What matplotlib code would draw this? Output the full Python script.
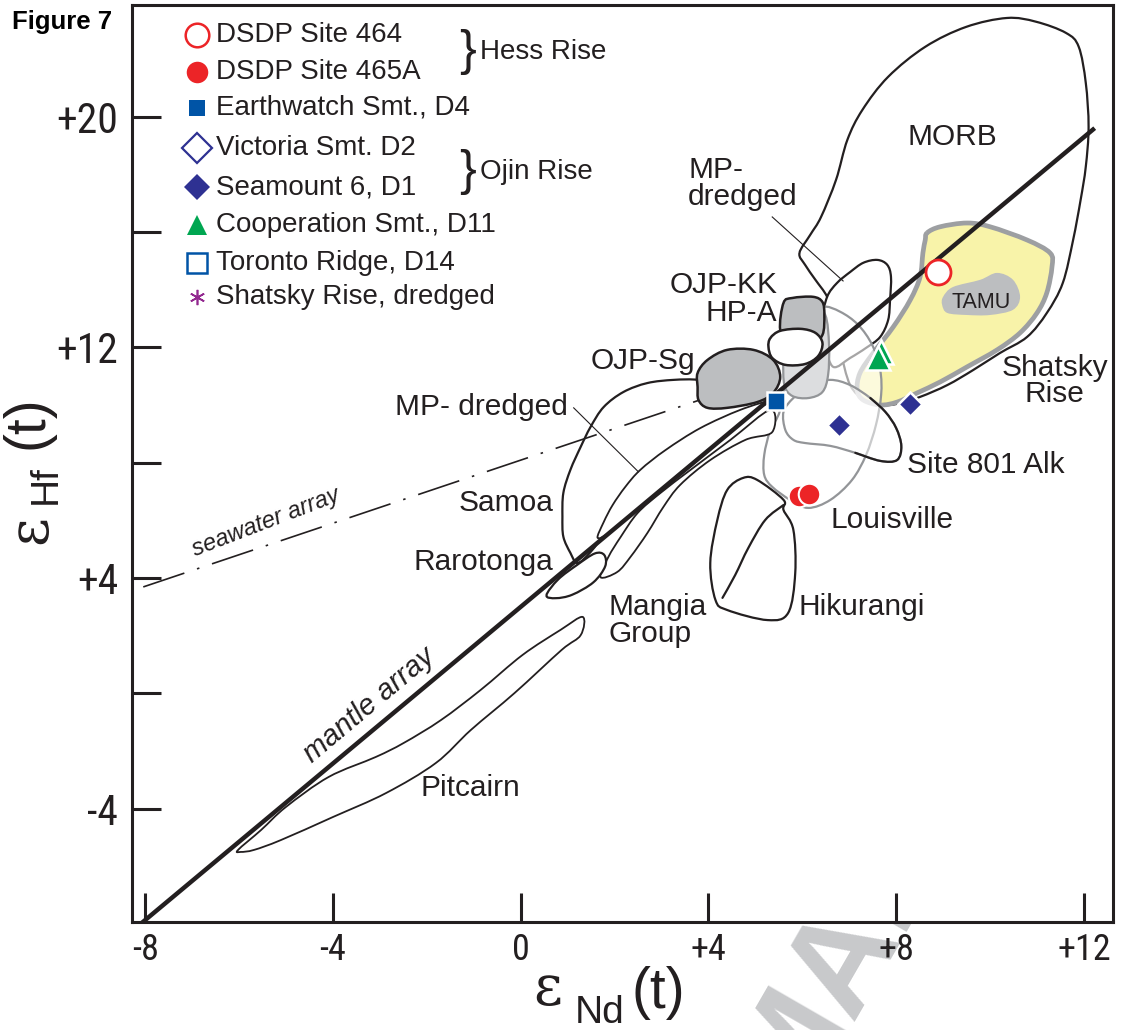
import matplotlib
matplotlib.use('Agg')
import matplotlib.pyplot as plt
from matplotlib.path import Path
from matplotlib.patches import PathPatch

plt.rcParams['font.family'] = ['Liberation Sans', 'DejaVu Sans']

INK = '#231f20'
GREY_EDGE = '#939598'
DARK_FILL = '#bcbec0'
LIGHT_FILL = '#dcdddf'
YELLOW = '#f8f3a9'
NARROW = ['Roboto Condensed', 'Liberation Sans Narrow', 'Liberation Sans', 'DejaVu Sans']

# ---- field outlines, (eNd, eHf) ----
morb = [(5.94, 15.27), (6.17, 15.90), (6.40, 16.52), (6.72, 17.81), (6.96, 19.19), (7.28, 20.23),
        (7.83, 21.38), (8.62, 22.42), (9.49, 23.11), (10.36, 23.42), (10.98, 23.29), (11.62, 22.90),
        (11.89, 22.42), (12.04, 21.17), (12.10, 19.64), (12.04, 18.26), (11.93, 17.11), (11.77, 15.72),
        (11.55, 14.23), (11.21, 13.19), (10.79, 12.36), (10.21, 11.80), (9.64, 11.21), (9.09, 10.69),
        (8.51, 10.28), (8.02, 10.04), (7.72, 10.00), (7.34, 10.17), (7.02, 10.69), (6.81, 11.91),
        (6.70, 12.95), (6.53, 13.75), (6.28, 14.34), (6.06, 14.86)]
shatsky = [(8.66, 15.97), (8.94, 16.18), (9.51, 16.31), (10.00, 16.18), (10.79, 15.72), (11.28, 15.27),
           (11.32, 14.79), (11.21, 13.89), (11.00, 13.19), (10.64, 12.50), (10.15, 11.91), (9.51, 11.32),
           (8.94, 10.80), (8.45, 10.42), (8.02, 10.10), (7.66, 10.00), (7.30, 10.17), (7.17, 10.52),
           (7.23, 11.11), (7.51, 11.80), (7.94, 12.71), (8.30, 13.64), (8.51, 14.44), (8.57, 15.27),
           (8.62, 15.72)]
tamu = [(9.00, 13.75), (9.21, 14.09), (9.79, 14.34), (10.15, 14.58), (10.49, 14.34), (10.64, 13.75),
        (10.49, 13.30), (10.00, 13.12), (9.51, 13.12), (9.09, 13.19), (8.98, 13.47)]
mp_upper = [(6.53, 13.75), (6.74, 14.23), (7.02, 14.61), (7.30, 14.93), (7.60, 15.03), (7.81, 14.86),
            (7.89, 14.44), (7.87, 13.64), (7.83, 12.95), (7.66, 12.36), (7.36, 11.98), (7.02, 11.63),
            (6.66, 11.32), (6.49, 12.08), (6.43, 12.95)]
louisville = [(5.53, 9.83), (5.32, 9.13), (5.19, 8.27), (5.19, 7.57), (5.36, 7.16), (5.74, 6.71),
              (6.13, 6.43), (6.60, 6.71), (7.06, 7.40), (7.36, 8.27), (7.57, 9.31), (7.68, 10.35),
              (7.66, 11.21), (7.49, 12.08), (7.19, 12.78), (6.81, 13.23), (6.43, 13.40), (6.06, 12.95),
              (5.74, 11.56)]
site801 = [(5.60, 9.76), (5.64, 9.13), (5.81, 8.79), (6.06, 8.68), (6.60, 8.58), (7.13, 8.34),
           (7.66, 8.06), (8.02, 8.09), (8.11, 8.58), (8.00, 9.20), (7.77, 9.76), (7.45, 10.24),
           (7.02, 10.69), (6.60, 10.87), (6.17, 10.69), (5.81, 10.24)]
site801_black = [(7.13, 8.34), (7.66, 8.06), (8.02, 8.09), (8.11, 8.58), (8.00, 9.20), (7.77, 9.76),
                 (7.45, 10.24)]
light_oval = [(6.21, 13.47), (6.49, 13.12), (6.57, 12.08), (6.55, 11.04), (6.43, 10.45), (6.13, 10.24),
              (5.79, 10.31), (5.62, 10.69), (5.60, 11.56), (5.68, 12.60), (5.89, 13.30)]
ojp_kk = [(5.60, 13.54), (5.79, 13.71), (6.23, 13.75), (6.43, 13.57), (6.47, 13.12), (6.43, 12.43),
          (6.17, 12.08), (5.74, 12.08), (5.53, 12.60)]
hp_a = [(5.32, 12.32), (5.53, 12.57), (5.96, 12.64), (6.28, 12.50), (6.43, 12.15), (6.34, 11.70),
        (6.06, 11.42), (5.64, 11.39), (5.36, 11.63), (5.28, 12.01)]
ojp_sg = [(3.77, 11.11), (3.98, 11.56), (4.40, 11.91), (4.96, 11.91), (5.38, 11.56), (5.53, 10.97),
          (5.38, 10.42), (5.04, 10.10), (4.40, 9.90), (3.98, 9.90), (3.79, 10.17), (3.77, 10.62)]
samoa = [(3.77, 10.87), (3.26, 10.87), (2.70, 10.76), (2.19, 10.45), (1.77, 9.93), (1.49, 9.24),
         (1.28, 8.55), (1.06, 7.75), (0.91, 6.95), (0.89, 6.12), (0.91, 5.43), (1.06, 4.87),
         (1.21, 4.52), (1.49, 4.90), (1.91, 5.77), (2.55, 6.88), (3.40, 8.27), (4.26, 9.31),
         (5.21, 10.10), (4.68, 10.45), (4.04, 10.69)]
mp_lower = [(1.64, 5.39), (1.77, 5.94), (1.96, 6.53), (2.23, 7.16), (2.55, 7.75), (3.09, 8.44),
            (3.83, 9.20), (4.68, 9.83), (5.36, 10.17), (5.11, 9.90), (4.26, 8.79), (3.40, 7.64),
            (2.55, 6.46), (1.91, 5.60)]
mangia = [(1.70, 4.03), (1.87, 4.73), (2.13, 5.42), (2.49, 6.25), (2.98, 6.95), (3.62, 7.75),
          (4.47, 8.79), (5.32, 9.83), (5.36, 9.06), (4.79, 8.79), (4.04, 8.09), (3.40, 7.23),
          (3.04, 6.46), (2.70, 5.56), (2.34, 4.73), (2.06, 4.21)]
rarotonga = [(0.55, 3.40), (0.80, 3.95), (1.20, 4.45), (1.58, 4.85), (1.78, 4.80), (1.80, 4.40),
             (1.55, 3.85), (1.10, 3.42), (0.75, 3.30)]
pitcairn = [(-6.02, -5.43), (-5.53, -4.74), (-5.00, -3.94), (-4.09, -2.90), (-3.09, -2.21),
            (-2.49, -1.72), (-1.70, -0.93), (-0.85, 0.12), (0.04, 1.33), (0.85, 2.20), (1.32, 2.65),
            (1.28, 2.02), (0.87, 1.50), (-0.13, 0.01), (-1.06, -1.27), (-1.81, -2.42), (-2.87, -3.46),
            (-4.00, -4.29), (-5.11, -5.09), (-5.68, -5.43), (-5.96, -5.50)]
hikurangi = [(4.74, 7.47), (4.40, 7.05), (4.19, 6.01), (4.04, 4.52), (4.15, 3.24), (4.40, 2.89),
             (5.26, 2.54), (5.70, 2.79), (5.85, 4.17), (5.81, 5.67), (5.60, 6.36), (5.60, 6.71),
             (5.04, 7.40)]
hikurangi_split = [(5.60, 6.53), (5.21, 6.01), (4.85, 5.04), (4.57, 4.10), (4.30, 3.31)]

# ---- reference arrays ----
mantle_array = [(-8.1, -8.0), (12.23, 19.6)]
seawater_array = [(-8.04, 3.69), (3.83, 10.18)]
leader_upper = [(5.36, 16.52), (6.87, 14.30)]
leader_lower = [(1.13, 9.90), (2.51, 7.68)]

# ---- samples ----
site464_nd, site464_hf = [8.89], [14.62]
site465a_nd, site465a_hf = [5.94, 6.15], [6.84, 6.91]
earthwatch_nd, earthwatch_hf = [5.43], [10.14]
seamount6_nd, seamount6_hf = [6.79, 8.30], [9.31, 10.04]
cooperation_nd, cooperation_hf = [7.68, 7.62], [11.84, 11.63]

xticks = [-8, -4, 0, 4, 8, 12]
xtick_labels = ['-8', '-4', '0', '+4', '+8', '+12']
yticks = [-4, 0, 4, 8, 12, 16, 20]
ytick_labels = ['-4', '', '+4', '', '+12', '', '+20']


def smooth_path(pts, closed=True):
    # Catmull-Rom through the outline points, written as cubic Bezier segments
    n = len(pts)
    if closed:
        get = lambda i: pts[i % n]
        segs = n
    else:
        get = lambda i: pts[min(max(i, 0), n - 1)]
        segs = n - 1
    verts = [get(0)]
    codes = [Path.MOVETO]
    for i in range(segs):
        p0, p1, p2, p3 = get(i - 1), get(i), get(i + 1), get(i + 2)
        c1 = (p1[0] + (p2[0] - p0[0]) / 6, p1[1] + (p2[1] - p0[1]) / 6)
        c2 = (p2[0] - (p3[0] - p1[0]) / 6, p2[1] - (p3[1] - p1[1]) / 6)
        verts += [c1, c2, p2]
        codes += [Path.CURVE4] * 3
    return Path(verts, codes)


def field(pts, face, edge, lw=1.6, z=2, alpha=1.0):
    p = smooth_path(pts)
    ax.add_patch(PathPatch(p, facecolor=face, edgecolor='none', alpha=alpha, zorder=z))
    ax.add_patch(PathPatch(p, facecolor='none', edgecolor=edge, lw=lw, zorder=z, joinstyle='round'))


def curve(pts, color=INK, lw=1.6, z=2):
    ax.add_patch(PathPatch(smooth_path(pts, closed=False), facecolor='none', edgecolor=color,
                           lw=lw, zorder=z, capstyle='round'))


def line(pts, **kw):
    ax.plot([p[0] for p in pts], [p[1] for p in pts], **kw)


fig = plt.figure(figsize=(11.21, 10.30), dpi=100)
ax = fig.add_axes([132 / 1121, 1 - 922 / 1030, 981 / 1121, 917 / 1030])
ax.set_xlim(-8.28, 12.62)
ax.set_ylim(-7.93, 23.87)

field(morb, 'white', INK, z=1)
field(shatsky, YELLOW, '#9d9fa2', lw=3.4, z=2)
field(tamu, DARK_FILL, 'none', z=3)
field(hikurangi, 'white', INK, z=2)
curve(hikurangi_split, z=2)
field(pitcairn, 'white', INK, lw=1.3, z=2)
field(samoa, 'white', INK, z=2)
field(mp_upper, 'white', INK, z=3)
field(louisville, 'white', GREY_EDGE, lw=1.6, z=4, alpha=0.6)
field(site801, 'white', GREY_EDGE, lw=1.6, z=4, alpha=0.5)
curve(site801_black, z=4)
field(light_oval, LIGHT_FILL, GREY_EDGE, lw=1.6, z=5)
field(ojp_kk, DARK_FILL, INK, lw=1.8, z=6)
field(hp_a, 'white', INK, lw=1.8, z=7)
field(mp_lower, 'white', INK, lw=1.3, z=4)
field(mangia, 'white', INK, lw=1.3, z=4)
line(seawater_array, color=INK, lw=1.2, ls=(0, (26, 8, 1.5, 8)), zorder=5)
field(rarotonga, 'white', INK, lw=1.6, z=5)
field(ojp_sg, DARK_FILL, INK, lw=1.8, z=6)
line(mantle_array, color=INK, lw=3.2, zorder=8, solid_capstyle='butt')
line(leader_upper, color=INK, lw=0.8, zorder=8)
line(leader_lower, color=INK, lw=0.8, zorder=8)

RED, NAVY, BLUE, GREEN, PURPLE = '#ec2427', '#2e3192', '#0054a6', '#00a651', '#92278f'
ax.plot(site464_nd, site464_hf, 'o', ms=18, mfc='white', mec=RED, mew=2.0, zorder=10)
ax.plot(site465a_nd, site465a_hf, 'o', ms=15.5, mfc=RED, mec='white', mew=1.5, ls='none', zorder=10)
ax.plot(earthwatch_nd, earthwatch_hf, 's', ms=13.5, mfc=BLUE, mec='white', mew=1.8, zorder=10)
ax.plot(seamount6_nd, seamount6_hf, 'D', ms=12.5, mfc=NAVY, mec='white', mew=1.8, ls='none', zorder=10)
ax.plot(cooperation_nd, cooperation_hf, '^', ms=17, mfc=GREEN, mec='white', mew=1.8, ls='none', zorder=10)

# legend
leg = [('DSDP Site 464', 'o', 'white', RED, 17, 1.8),
       ('DSDP Site 465A', 'o', RED, RED, 15.5, 0),
       ('Earthwatch Smt., D4', 's', BLUE, BLUE, 11.5, 0),
       ('Victoria Smt. D2', 'D', 'white', NAVY, 15, 1.6),
       ('Seamount 6, D1', 'D', NAVY, NAVY, 13, 0),
       ('Cooperation Smt., D11', '^', GREEN, GREEN, 15, 0),
       ('Toronto Ridge, D14', 's', 'white', BLUE, 14, 1.8),
       ('Shatsky Rise, dredged', (6, 2, 0), PURPLE, PURPLE, 11, 1.2)]
rows = [35, 72, 108, 148, 187, 225, 263, 297]
for (lab, mk, fc, ec, ms, ew), py in zip(leg, rows):
    yf = (922 - py) / 917
    ax.plot([0.0663], [yf], marker=mk, ms=ms, mfc=fc, mec=ec, mew=ew, transform=ax.transAxes, zorder=11)
    ax.text(0.0856, yf, lab, transform=ax.transAxes, fontsize=20, va='center', ha='left', color=INK, zorder=11)
for txt, py in [('Hess Rise', 52), ('Ojin Rise', 172)]:
    yf = (922 - py) / 917
    ax.text(0.3425, yf, '}', transform=ax.transAxes, fontsize=36, va='center', ha='center', color=INK)
    ax.text(0.3547, yf, txt, transform=ax.transAxes, fontsize=20, va='center', ha='left', color=INK)

# field labels
lab_kw = dict(fontsize=21.5, color=INK, zorder=12)
ax.text(9.19, 19.30, 'MORB', ha='center', va='center', **lab_kw)
ax.text(3.57, 17.67, 'MP-\ndredged', ha='left', va='center', linespacing=0.95, **lab_kw)
ax.text(5.47, 14.16, 'OJP-KK', ha='right', va='center', **lab_kw)
ax.text(5.47, 13.19, 'HP-A', ha='right', va='center', **lab_kw)
ax.text(3.72, 11.53, 'OJP-Sg', ha='right', va='center', **lab_kw)
ax.text(1.00, 9.93, 'MP- dredged', ha='right', va='center', **lab_kw)
ax.text(0.70, 6.60, 'Samoa', ha='right', va='center', **lab_kw)
ax.text(0.70, 4.55, 'Rarotonga', ha='right', va='center', **lab_kw)
ax.text(1.87, 2.51, 'Mangia\nGroup', ha='left', va='center', linespacing=0.95, **lab_kw)
ax.text(5.91, 2.99, 'Hikurangi', ha='left', va='center', **lab_kw)
ax.text(6.60, 6.01, 'Louisville', ha='left', va='center', **lab_kw)
ax.text(8.23, 7.92, 'Site 801 Alk', ha='left', va='center', **lab_kw)
ax.text(11.38, 10.83, 'Shatsky\nRise', ha='center', va='center', linespacing=0.95, **lab_kw)
ax.text(-2.13, -3.28, 'Pitcairn', ha='left', va='center', **lab_kw)
ax.text(9.81, 13.54, 'TAMU', ha='center', va='center', fontsize=15.5, color=INK, zorder=12)
ax.text(-5.43, 5.94, 'seawater array', ha='center', va='center', rotation=21, fontsize=17,
        style='italic', color=INK, zorder=12)
ax.text(-3.22, -0.40, 'mantle array', ha='center', va='center', rotation=40, fontsize=21,
        style='italic', color=INK, zorder=12)

# axes styling
for s in ax.spines.values():
    s.set_linewidth(2.2)
    s.set_color(INK)
ax.set_xticks(xticks)
ax.set_xticklabels(xtick_labels)
ax.set_yticks(yticks)
ax.set_yticklabels(ytick_labels)
ax.tick_params(direction='in', length=21, width=2.2, color=INK, labelcolor=INK)
ax.tick_params(axis='x', pad=7, labelsize=26)
ax.tick_params(axis='y', pad=10, labelsize=30)
for t in ax.get_xticklabels() + ax.get_yticklabels():
    t.set_fontfamily(NARROW)


# axis titles
def px(x, y):
    return x / 1121, 1 - y / 1030


fig.text(*px(548, 990), '\u03b5', fontsize=40, family=['DejaVu Serif'], ha='center', va='center', color=INK)
fig.text(*px(600, 1013), 'Nd', fontsize=28, ha='center', va='center', color=INK)
fig.text(*px(658, 993), '(t)', fontsize=41, ha='center', va='center', color=INK)
fig.text(*px(31, 530), '\u03b5', fontsize=40, family=['DejaVu Serif'], rotation=90, ha='center', va='center', color=INK)
fig.text(*px(46, 485), 'Hf', fontsize=28, rotation=90, ha='center', va='center', color=INK)
fig.text(*px(28, 422), '(t)', fontsize=41, rotation=90, ha='center', va='center', color=INK)
fig.text(*px(12, 22), 'Figure 7', fontsize=18.5, fontweight='bold', ha='left', va='center', color='black')

# faint watermark, mostly hidden behind the axes
fig.text(*px(708, 1100), 'MAN', fontsize=98, fontweight='bold', rotation=60,
         color='#c8c9cb', ha='left', va='baseline', zorder=-5)

fig.savefig('out.png', dpi=100)
